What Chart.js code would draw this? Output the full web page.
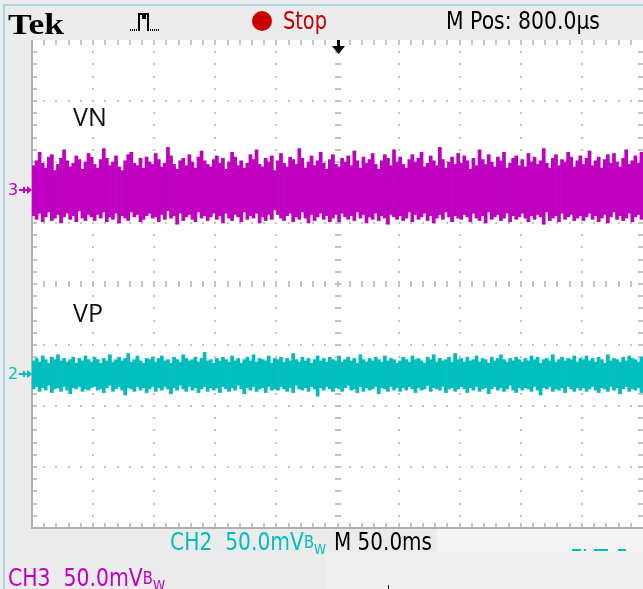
<!DOCTYPE html>
<html><head><meta charset="utf-8">
<script src="https://cdn.jsdelivr.net/npm/chart.js@4.4.1/dist/chart.umd.min.js"></script>
<style>
html,body{margin:0;padding:0;background:#ebebeb;}
#wrap{position:relative;width:643px;height:589px;overflow:hidden;}
#c{position:absolute;left:0;top:0;}
.t{position:absolute;white-space:nowrap;line-height:1;transform-origin:0 0;font-family:"DejaVu Sans",sans-serif;font-size:24px;}
.b{font-size:0.72em;position:relative;top:-0.12em;}
.w{font-size:0.6em;position:relative;top:0.3em;}
</style></head><body>
<div id="wrap">
<canvas id="c" width="643" height="589"></canvas>
<div class="t" data-w="56" style="left:8px;top:9px;font-family:'Liberation Serif',serif;font-weight:bold;font-size:30px;color:#000">Tek</div>
<div class="t" data-w="44" style="left:283px;top:9px;color:#c00000">Stop</div>
<div class="t" data-w="154" style="left:446px;top:9px;color:#000">M Pos: 800.0µs</div>
<div class="t" data-w="156" style="left:170px;top:530px;color:#00bebe">CH2&nbsp;&nbsp;50.0mV<span class="b">B</span><span class="w">W</span></div>
<div class="t" data-w="98" style="left:334px;top:530px;color:#000">M 50.0ms</div>
<div class="t" data-w="157" style="left:8px;top:566px;color:#c000c0">CH3&nbsp;&nbsp;50.0mV<span class="b">B</span><span class="w">W</span></div>
<div class="t" style="left:73px;top:104px;font-family:'Open Sans',sans-serif;font-size:25px;color:#111">VN</div>
<div class="t" style="left:73px;top:300px;font-family:'Open Sans',sans-serif;font-size:25px;color:#111">VP</div>
</div>
<script>
// ---- data (mV, relative to each channel's ground marker), one column per trace sample ----
const vnHigh = [
20,24,31,22,18,27,29,16,21,26,33,24,19,22,28,25,17,23,30,27,
21,18,25,34,26,20,23,28,19,16,24,29,31,22,20,26,18,27,23,21,
30,25,19,22,35,28,21,17,24,26,20,29,23,18,27,32,24,21,19,25,
28,22,26,17,23,31,27,20,24,18,22,29,25,33,21,19,26,23,28,16,
24,30,22,19,27,25,21,34,26,18,23,28,20,24,31,22,17,25,29,21,
19,26,23,28,20,32,24,18,27,22,25,30,21,17,24,29,26,20,33,23,
27,21,18,25,29,23,26,31,19,22,28,24,20,35,25,18,23,27,21,30,
22,28,24,17,26,20,33,25,21,29,23,19,27,24,31,18,22,26,28,20,
25,19,30,23,27,21,24,34,22,18,26,29,20,25,23,31,27,19,24,28,
21,26,32,20,24,27,18,25,29,22,30,23,19,26,33,21,24,28,22,31];
const vnLow = [
-21,-24,-19,-26,-22,-18,-25,-23,-20,-27,-22,-19,-24,-21,-26,-17,-23,-25,-20,-22,
-25,-20,-23,-18,-26,-22,-24,-19,-27,-21,-23,-25,-18,-22,-20,-26,-24,-21,-19,-23,
-22,-26,-20,-24,-17,-23,-21,-28,-19,-25,-22,-20,-24,-26,-18,-23,-21,-25,-22,-19,
-24,-21,-27,-19,-23,-25,-20,-22,-26,-18,-24,-21,-23,-19,-27,-22,-25,-20,-24,-16,
-20,-23,-25,-21,-19,-26,-22,-24,-18,-23,-27,-20,-25,-22,-19,-24,-21,-26,-23,-20,
-26,-19,-22,-24,-21,-25,-18,-23,-20,-27,-22,-24,-19,-25,-21,-23,-28,-20,-22,-24,
-21,-25,-23,-18,-26,-20,-24,-22,-19,-25,-21,-27,-23,-20,-24,-18,-22,-26,-21,-23,
-24,-20,-22,-26,-19,-23,-25,-21,-27,-18,-24,-22,-20,-25,-23,-19,-26,-21,-24,-22,
-19,-23,-26,-21,-24,-20,-22,-28,-18,-25,-23,-21,-26,-19,-24,-22,-20,-25,-23,-21,
-25,-22,-19,-24,-21,-26,-23,-20,-27,-22,-18,-24,-21,-25,-23,-19,-26,-22,-20,-24];
const vpHigh = [
11,13,10,15,12,9,14,12,16,11,13,10,12,14,9,13,11,15,12,10,
14,12,9,13,11,16,10,12,14,11,13,17,10,12,15,11,9,13,12,14,
10,13,15,11,12,9,14,12,10,16,13,11,12,14,10,13,18,11,12,9,
13,11,14,12,10,15,11,13,9,12,14,11,16,10,13,12,11,15,9,13,
12,14,10,13,11,17,12,10,14,11,13,9,12,15,11,13,10,14,12,11,
15,10,12,14,11,13,9,16,12,10,13,11,14,12,10,15,11,13,12,9,
11,14,12,10,15,12,13,11,9,14,12,16,10,13,11,12,14,10,17,12,
13,10,14,11,12,15,10,13,12,9,14,11,13,16,12,10,13,11,14,12,
10,13,11,15,12,14,9,12,13,11,16,10,12,14,11,13,12,15,10,13,
12,15,11,13,10,14,12,9,16,11,13,12,10,14,11,15,13,12,10,14];
const vpLow = [
-12,-10,-14,-11,-13,-9,-15,-12,-11,-14,-10,-13,-16,-11,-12,-10,-14,-12,-13,-11,
-10,-13,-12,-15,-11,-9,-14,-12,-10,-13,-17,-11,-12,-14,-10,-13,-11,-15,-12,-10,
-14,-11,-13,-10,-12,-16,-11,-13,-9,-12,-14,-10,-13,-11,-15,-12,-10,-14,-11,-13,
-11,-15,-10,-12,-14,-11,-13,-9,-12,-16,-11,-13,-10,-14,-12,-11,-15,-10,-13,-12,
-13,-10,-12,-14,-11,-15,-9,-12,-13,-11,-14,-10,-12,-18,-11,-13,-10,-12,-14,-11,
-12,-14,-11,-9,-13,-12,-15,-10,-14,-11,-13,-12,-10,-16,-11,-12,-14,-10,-13,-11,
-14,-11,-13,-10,-12,-15,-11,-13,-12,-9,-14,-11,-12,-13,-10,-15,-12,-11,-14,-12,
-10,-12,-15,-11,-13,-10,-14,-12,-11,-16,-12,-10,-13,-11,-14,-12,-9,-13,-15,-11,
-13,-11,-12,-14,-10,-13,-17,-11,-12,-10,-14,-12,-13,-11,-15,-10,-12,-14,-11,-13,
-11,-14,-12,-10,-13,-15,-11,-12,-14,-10,-13,-11,-16,-12,-10,-14,-12,-13,-11,-15];
const VN_GROUND = 77;   // CH3 ground marker position on screen, mV
const VP_GROUND = -74;  // CH2 ground marker position on screen, mV
const DIV_MV = 50;
const H_DIVS = 10, V_DIVS = 8;

const N = vnHigh.length;
const xVals = vnHigh.map((_, i) => i + 0.5);
const band = (hi, lo, g) => xVals.map((x, i) => ({x: x, y: [lo[i] + g, hi[i] + g]}));
const MAG = '#c000c0', CYAN = '#00bebe';
const GRID = '#c4c4c4';

const framePlugin = {
  id: 'frame',
  beforeDraw(chart) {
    const ctx = chart.ctx, a = chart.chartArea;
    ctx.save();
    ctx.fillStyle = '#ebebeb'; ctx.fillRect(0, 0, chart.width, chart.height);
    ctx.fillStyle = '#f4f4f4'; ctx.fillRect(437, a.bottom, chart.width - 437, 24);
    ctx.fillStyle = '#efefef'; ctx.fillRect(325, a.bottom + 24, chart.width - 325, chart.height);
    ctx.fillStyle = '#a9d4ea'; ctx.fillRect(3, 4, 2, chart.height); ctx.fillRect(3, 4, chart.width, 2);
    ctx.fillStyle = '#ffffff'; ctx.fillRect(a.left, a.top, a.right - a.left, a.bottom - a.top);
    ctx.restore();
  },
  beforeDatasetsDraw(chart) {
    const ctx = chart.ctx, a = chart.chartArea, xs = chart.scales.x, ys = chart.scales.y;
    const yMin = ys.min, xStep = N / H_DIVS, yStep = DIV_MV;
    ctx.save();
    ctx.fillStyle = GRID;
    for (let k = 1; k < H_DIVS; k++) {
      const X = Math.round(xs.getPixelForValue(k * xStep));
      for (let m = 1; m < V_DIVS * 5; m++) {
        const Y = Math.round(ys.getPixelForValue(yMin + m * yStep / 5));
        if (k === H_DIVS / 2) ctx.fillRect(X - 3, Y - 1, 6, 2);
        else ctx.fillRect(X - 1, Y - 1, 2, 2);
      }
    }
    for (let j = 1; j < V_DIVS; j++) {
      const Y = Math.round(ys.getPixelForValue(yMin + j * yStep));
      for (let m = 1; m < H_DIVS * 5; m++) {
        const X = Math.round(xs.getPixelForValue(m * xStep / 5));
        if (j === V_DIVS / 2) ctx.fillRect(X - 1, Y - 3, 2, 6);
        else ctx.fillRect(X - 1, Y - 1, 2, 2);
      }
    }
    for (let m = 1; m < H_DIVS * 5; m++) {
      const X = Math.round(xs.getPixelForValue(m * xStep / 5));
      ctx.fillRect(X - 1, a.top, 2, 5);
      ctx.fillRect(X - 1, a.bottom - 5, 2, 5);
    }
    for (let m = 1; m < V_DIVS * 5; m++) {
      const Y = Math.round(ys.getPixelForValue(yMin + m * yStep / 5));
      ctx.fillRect(a.left, Y - 1, 5, 2);
      ctx.fillRect(a.right - 5, Y - 1, 5, 2);
    }
    ctx.fillStyle = '#b0b0b0';
    ctx.fillRect(a.left - 1, a.top, 2, a.bottom - a.top + 1);
    ctx.fillRect(a.left - 1, a.bottom - 1, a.right - a.left + 1, 2);
    ctx.restore();
  },
  afterDatasetsDraw(chart) {
    const ctx = chart.ctx, a = chart.chartArea, xs = chart.scales.x, ys = chart.scales.y;
    ctx.save();
    const marker = (label, g, col) => {
      const Y = Math.round(ys.getPixelForValue(g));
      ctx.fillStyle = col;
      ctx.font = '16px "DejaVu Sans"'; ctx.textBaseline = 'middle'; ctx.textAlign = 'left';
      ctx.fillText(label, 8, Y + 1);
      ctx.fillRect(19, Y - 1, 10, 2);
      ctx.fillRect(23, Y - 3, 2, 6);
      ctx.beginPath(); ctx.moveTo(27, Y - 4); ctx.lineTo(32, Y); ctx.lineTo(27, Y + 4); ctx.closePath(); ctx.fill();
    };
    marker('3', VN_GROUND, MAG);
    marker('2', VP_GROUND, CYAN);
    const TX = Math.round(xs.getPixelForValue(N / 2));
    ctx.fillStyle = '#000';
    ctx.fillRect(TX - 1, a.top, 3, 8);
    ctx.beginPath(); ctx.moveTo(TX - 6, a.top + 6); ctx.lineTo(TX + 7, a.top + 6); ctx.lineTo(TX + 0.5, a.top + 14); ctx.closePath(); ctx.fill();
    ctx.fillStyle = '#000';
    for (let x = 130; x < 138; x += 2) ctx.fillRect(x, 29, 1, 2);
    ctx.fillRect(138, 13, 2, 18); ctx.fillRect(138, 13, 5, 2); ctx.fillRect(142, 13, 2, 6);
    ctx.fillRect(142, 17, 3, 2); ctx.fillRect(144, 13, 2, 6); ctx.fillRect(144, 13, 4, 2); ctx.fillRect(147, 13, 2, 18);
    for (let x = 150; x < 159; x += 2) ctx.fillRect(x, 29, 1, 2);
    ctx.fillStyle = '#c80000';
    ctx.beginPath(); ctx.arc(262, 21, 10, 0, Math.PI * 2); ctx.fill();
    ctx.fillStyle = CYAN;
    ctx.fillRect(572, 549, 9, 2); ctx.fillRect(584, 549, 2, 2); ctx.fillRect(594, 549, 14, 2); ctx.fillRect(618, 549, 8, 2);
    ctx.fillStyle = '#222'; ctx.fillRect(388, 585, 1, 4);
    ctx.restore();
  }
};

new Chart(document.getElementById('c'), {
  type: 'bar',
  data: {
    datasets: [
      {label: 'VN', data: band(vnHigh, vnLow, VN_GROUND), backgroundColor: MAG, borderWidth: 0,
       barPercentage: 1, categoryPercentage: 1, grouped: false},
      {label: 'VP', data: band(vpHigh, vpLow, VP_GROUND), backgroundColor: CYAN, borderWidth: 0,
       barPercentage: 1, categoryPercentage: 1, grouped: false}
    ]
  },
  options: {
    responsive: false, animation: false, devicePixelRatio: 1,
    layout: {padding: {left: 32, top: 40, right: 0, bottom: 61}},
    scales: {
      x: {type: 'linear', min: 0, max: N, display: false, offset: false},
      y: {min: -V_DIVS / 2 * DIV_MV, max: V_DIVS / 2 * DIV_MV, display: false}
    },
    plugins: {legend: {display: false}, tooltip: {enabled: false}, title: {display: false}}
  },
  plugins: [framePlugin]
});

function fitText() {
  document.querySelectorAll('.t[data-w]').forEach(el => {
    el.style.transform = 'none';
    const w = el.getBoundingClientRect().width;
    el.style.transform = 'scaleX(' + (parseFloat(el.dataset.w) / w) + ')';
  });
}
fitText();
if (document.fonts && document.fonts.ready) document.fonts.ready.then(fitText);
</script>
</body></html>
